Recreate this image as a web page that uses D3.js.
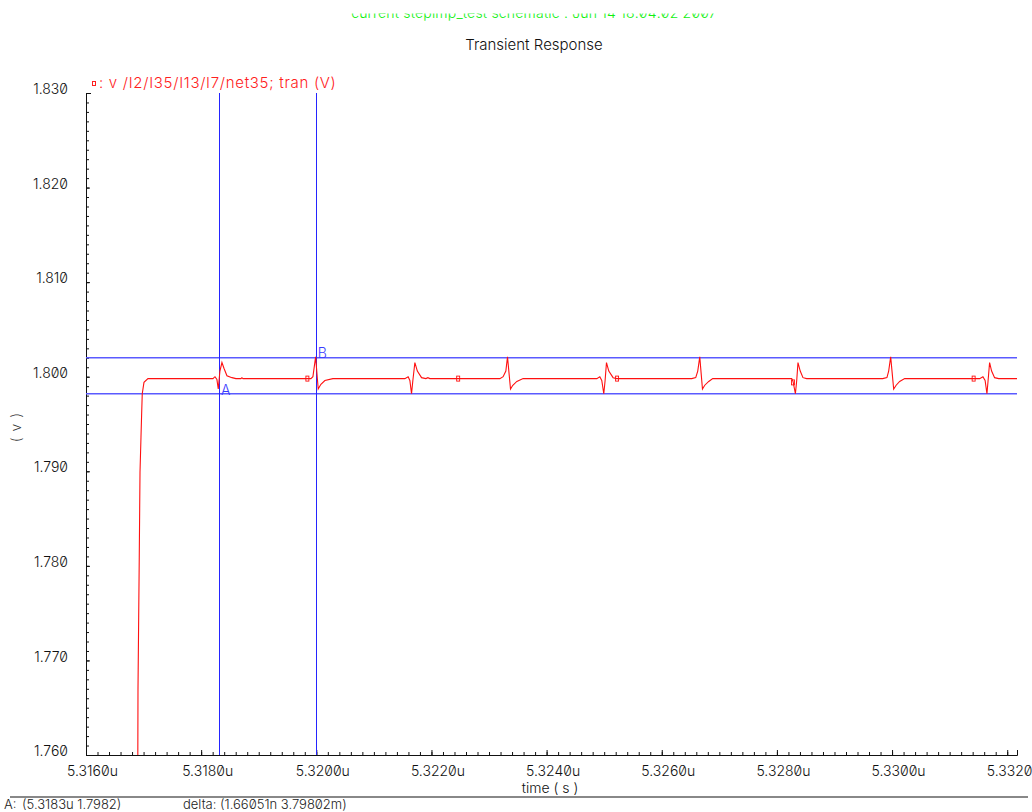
<!DOCTYPE html>
<meta charset="utf-8">
<script src="https://d3js.org/d3.v7.min.js"></script>
<style>
  body { margin: 0; background: #fff; }
  text { font-family: Inter, "DejaVu Sans", sans-serif; font-weight: 300; font-variant-numeric: slashed-zero; font-feature-settings: "zero" 1; }
</style>
<div id="chart"></div>
<script>

// waveform v /I2/I35/I13/I7/net35 (time in u, volts)
const timeUs = [
  5.316000, 5.316890, 5.316898, 5.316903, 5.316925, 5.316938, 5.316955, 5.316967, 5.316977, 5.317007, 5.317076,
  5.318205, 5.318240, 5.318274, 5.318297, 5.318326, 5.318361, 5.318396, 5.318448, 5.318535, 5.318604,
  5.318691, 5.318708, 5.318726,
  5.319906, 5.319941, 5.319988, 5.320033, 5.320080, 5.320149, 5.320288,
  5.321538, 5.321595, 5.321625, 5.321654, 5.321677, 5.321712, 5.321755, 5.321828, 5.321903, 5.321938, 5.321972,
  5.323188, 5.323245, 5.323292, 5.323321, 5.323373, 5.323413, 5.323483, 5.323592,
  5.324872, 5.324924, 5.324958, 5.324993, 5.325016, 5.325040, 5.325080, 5.325155, 5.325219,
  5.326521, 5.326590, 5.326625, 5.326660, 5.326707, 5.326747, 5.326816, 5.326885,
  5.328205, 5.328257, 5.328280, 5.328321, 5.328344, 5.328366, 5.328405, 5.328453, 5.328517,
  5.329837, 5.329911, 5.329941, 5.329976, 5.330028, 5.330071, 5.330132, 5.330219,
  5.331521, 5.331578, 5.331616, 5.331648, 5.331668, 5.331694, 5.331729, 5.331781, 5.331851,
  5.332170
];
const voltV = [
  1.7000, 1.7400, 1.7550, 1.7669, 1.7809, 1.7899, 1.7936, 1.7962, 1.7982, 1.7994, 1.7998,
  1.7998, 1.8000, 1.7997, 1.7987, 1.8006, 1.8015, 1.8009, 1.8001, 1.7999, 1.7998,
  1.7998, 1.7999, 1.7998,
  1.7998, 1.8000, 1.8021, 1.7987, 1.7992, 1.7996, 1.7998,
  1.7998, 1.8000, 1.7996, 1.7982, 1.7996, 1.8015, 1.8006, 1.7999, 1.7998, 1.7999, 1.7998,
  1.7998, 1.8000, 1.8006, 1.8021, 1.7987, 1.7991, 1.7995, 1.7998,
  1.7998, 1.8000, 1.7996, 1.7982, 1.7996, 1.8015, 1.8006, 1.7999, 1.7998,
  1.7998, 1.7999, 1.8006, 1.8021, 1.7987, 1.7991, 1.7995, 1.7998,
  1.7998, 1.7998, 1.7995, 1.7982, 1.7996, 1.8015, 1.8006, 1.7999, 1.7998,
  1.7998, 1.7999, 1.8006, 1.8021, 1.7987, 1.7991, 1.7995, 1.7998,
  1.7998, 1.8000, 1.7996, 1.7982, 1.7996, 1.8015, 1.8006, 1.7999, 1.7998,
  1.7998
];

// curve symbols shown along the trace
const markerTimes = [5.319845, 5.322464, 5.325224, 5.328280, 5.331417];
const markerVolts = [1.7998, 1.7998, 1.7998, 1.7994, 1.7998];

// cursors
const cursorTimes = [5.31831, 5.31999];
const cursorNames = ["A", "B"];
const cursorLevels = [1.7982, 1.8020];

const xTicks = [5.316, 5.318, 5.320, 5.322, 5.324, 5.326, 5.328, 5.330, 5.332];
const yTicks = [1.76, 1.77, 1.78, 1.79, 1.80, 1.81, 1.82, 1.83];

const W = 1032, H = 812;
const svg = d3.select("#chart").append("svg")
  .attr("width", W).attr("height", H);

const x = d3.scaleLinear().domain([5.3160, 5.33217]).range([86, 1017]);
const y = d3.scaleLinear().domain([1.76, 1.83]).range([755, 93]);

svg.append("clipPath").attr("id", "plot")
  .append("rect").attr("x", 86).attr("y", 93).attr("width", 931).attr("height", 662);
svg.append("clipPath").attr("id", "top")
  .append("rect").attr("x", 0).attr("y", 13.5).attr("width", W).attr("height", 40);

// header
svg.append("text")
  .attr("clip-path", "url(#top)")
  .attr("x", 534).attr("y", 18).attr("text-anchor", "middle")
  .attr("fill", "#10f010").style("font-size", "14px").style("letter-spacing", "0.2px")
  .text("current stepimp_test schematic : Jun 14 18:04:02 2007");

svg.append("text")
  .attr("x", 534).attr("y", 50).attr("text-anchor", "middle")
  .attr("fill", "#111").style("font-size", "15px")
  .text("Transient Response");

// legend
svg.append("rect").attr("x", 92.5).attr("y", 81.5).attr("width", 3).attr("height", 4)
  .attr("fill", "none").attr("stroke", "#ff2020");
svg.append("text")
  .attr("x", 99).attr("y", 88).attr("fill", "#ff2020")
  .style("font-size", "15px").style("letter-spacing", "0.7px")
  .text(": v /I2/I35/I13/I7/net35; tran (V)");

// axes
const xMinor = d3.range(5.3160, 5.33215, 0.0002);
const yMinor = d3.range(1.760, 1.8305, 0.001);

svg.append("g").attr("transform", "translate(0,755)")
  .call(d3.axisBottom(x).tickValues(xMinor).tickSize(-3).tickSizeOuter(-5).tickFormat(""))
  .call(g => g.selectAll("line,path").attr("stroke", "#111"));
svg.append("g").attr("transform", "translate(0,755)")
  .call(d3.axisBottom(x).tickValues(xTicks).tickSize(-5).tickSizeOuter(0).tickPadding(10)
    .tickFormat(d => d.toFixed(4) + "u"))
  .call(g => g.select(".domain").remove())
  .call(g => g.selectAll("line").attr("stroke", "#111"))
  .call(g => g.selectAll("text").attr("dx", 6).attr("dy", "0.75em").attr("fill", "#111")
    .style("font-size", "14px").style("font-family", null));

svg.append("g").attr("transform", "translate(86,0)")
  .call(d3.axisLeft(y).tickValues(yMinor).tickSize(-3).tickSizeOuter(-5).tickFormat(""))
  .call(g => g.selectAll("line,path").attr("stroke", "#111"));
svg.append("g").attr("transform", "translate(86,0)")
  .call(d3.axisLeft(y).tickValues(yTicks).tickSize(-4).tickSizeOuter(0).tickPadding(18)
    .tickFormat(d => d.toFixed(3)))
  .call(g => g.select(".domain").remove())
  .call(g => g.selectAll("line").attr("stroke", "#111"))
  .call(g => g.selectAll("text").attr("dy", "0.05em").attr("fill", "#111")
    .style("font-size", "14px").style("font-family", null));

svg.append("text")
  .attr("transform", "translate(21,427) rotate(-90)")
  .attr("text-anchor", "middle").attr("fill", "#333").style("font-size", "14px")
  .style("letter-spacing", "1px")
  .text("( v )");

svg.append("text")
  .attr("x", 550).attr("y", 793).attr("text-anchor", "middle")
  .attr("fill", "#111").style("font-size", "14px")
  .text("time ( s )");

// cursors
const plot = svg.append("g").attr("clip-path", "url(#plot)");

plot.selectAll(".hcur").data(cursorLevels).join("line")
  .attr("x1", 86).attr("x2", 1017)
  .attr("y1", d => y(d)).attr("y2", d => y(d))
  .attr("stroke", "#5a5aff").attr("stroke-width", 1.6);

plot.selectAll(".vcur").data(cursorTimes).join("line")
  .attr("x1", d => Math.round(x(d)) + 0.5).attr("x2", d => Math.round(x(d)) + 0.5)
  .attr("y1", 93).attr("y2", 755)
  .attr("stroke", "#2424ff").attr("stroke-width", 1);

// waveform
const pts = timeUs.map((t, i) => [t, voltV[i]]);
plot.append("path")
  .datum(pts)
  .attr("fill", "none").attr("stroke", "#ff1010").attr("stroke-width", 1.1)
  .attr("d", d3.line().x(d => x(d[0])).y(d => y(d[1])));

plot.selectAll(".mk").data(markerTimes).join("rect")
  .attr("x", d => x(d) - 1.5).attr("y", (d, i) => y(markerVolts[i]) - 2.5)
  .attr("width", 3).attr("height", 5)
  .attr("fill", "none").attr("stroke", "#ff1010").attr("stroke-width", 0.9);

// cursor names
svg.selectAll(".cname").data(cursorNames).join("text")
  .attr("x", (d, i) => x(cursorTimes[i]) + 2)
  .attr("y", (d, i) => i === 0 ? y(cursorLevels[0]) + 1 : y(cursorLevels[1]))
  .attr("fill", "#3a3aff").style("font-size", "14px")
  .text(d => d);

// footer
svg.append("line").attr("x1", 10).attr("x2", 1028).attr("y1", 797).attr("y2", 797)
  .attr("stroke", "#888").attr("stroke-width", 2);

const foot = svg.append("text").attr("y", 809).attr("fill", "#222").style("font-size", "13px");
foot.append("tspan").attr("x", 4).text("A:");
foot.append("tspan").attr("x", 22).text("(5.3183u 1.7982)");
svg.append("text")
  .attr("x", 183).attr("y", 809).attr("fill", "#222").style("font-size", "13px")
  .text("delta: (1.66051n 3.79802m)");

</script>
